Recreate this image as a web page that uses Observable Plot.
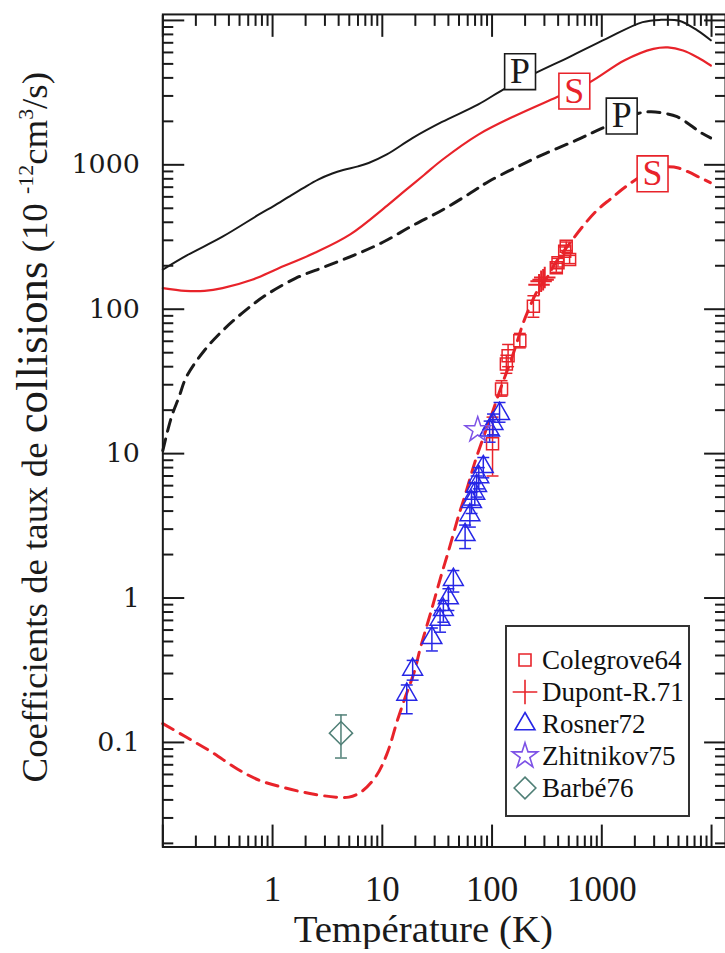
<!DOCTYPE html>
<html><head><meta charset="utf-8">
<script src="https://cdn.jsdelivr.net/npm/d3@7"></script>
<script src="https://cdn.jsdelivr.net/npm/@observablehq/plot@0.6"></script>
<style>
html,body{margin:0;padding:0;background:#fff;overflow:hidden;}
#wrap{position:relative;width:725px;height:953px;overflow:hidden;}
#legend{position:absolute;left:505px;top:625px;width:185px;height:192px;border:2px solid #333;background:#fff;box-sizing:border-box;font-family:"Liberation Serif",serif;font-size:27px;color:#111;}
#legend .row{position:absolute;left:0;height:32px;display:flex;align-items:center;white-space:nowrap;}
#legend svg{width:34px;height:32px;margin-left:1px;margin-right:0px;}
</style></head><body><div id="wrap"></div>
<script>
// ---- curves (Temperature K, rate 1e-12 cm3/s) ----
const pSolidT = [0.1, 0.164, 0.35, 0.76, 1.03, 1.4, 1.9, 2.6, 3.5, 4.4, 6, 7.5, 11, 18.8, 35, 75, 133, 245, 509, 1094, 2355, 3460, 5060, 7420, 9850];
const pSolidK = [188, 235, 318, 455, 520, 600, 690, 790, 870, 920, 975, 1030, 1180, 1530, 1980, 2620, 3400, 4300, 5600, 7450, 9730, 10090, 9950, 8530, 7280];
const sSolidT = [0.1, 0.16, 0.24, 0.35, 0.65, 1.1, 2.4, 5.1, 11, 16, 24, 35, 75, 161, 391, 776, 1600, 2950, 4000, 5500, 7420, 9850];
const sSolidK = [140, 134, 134, 140, 160, 190, 245, 330, 520, 660, 850, 1080, 1620, 2180, 2950, 3730, 5280, 6350, 6500, 6190, 5560, 4870];
const pDashT = [0.1, 0.12, 0.14, 0.164, 0.24, 0.35, 0.556, 0.88, 1.63, 3, 5.55, 10.2, 18.8, 35, 64, 94, 175, 322, 594, 1000, 2170, 2800, 3710, 4850, 6380, 7700, 9800];
const pDashK = [10.5, 18, 24.5, 34, 52, 71, 97, 126, 164, 197, 237, 292, 379, 485, 640, 770, 980, 1220, 1486, 1790, 2274, 2330, 2275, 2155, 1890, 1700, 1535];
const sDashT = [0.1, 0.163, 0.277, 0.477, 0.756, 1.29, 2.19, 3.78, 4.96, 6.46, 8.71, 11, 13.8, 16.2, 19.6, 22.2, 27.7, 35, 40, 50, 57, 70, 85, 100, 123, 150, 192, 210, 260, 324, 372, 500, 700, 920, 1200, 1650, 2500, 3500, 4050, 5000, 6000, 8000, 9750];
const sDashK = [0.135, 0.109, 0.086, 0.0655, 0.0547, 0.0485, 0.0443, 0.0418, 0.0418, 0.0456, 0.058, 0.083, 0.144, 0.206, 0.31, 0.45, 0.8, 1.5, 2.1, 3.8, 5.2, 8.8, 13.5, 19, 30, 45, 80, 95, 135, 170, 205, 280, 390, 490, 580, 705, 870, 960, 968, 950, 900, 810, 752];

// ---- curve labels ----
const labelT = [180, 562, 1519, 2902];
const labelK = [4416, 3239, 2178, 867];
const labelText = ["P", "S", "P", "S"];
const labelKind = ["black", "red", "black", "red"];

// ---- measurements ----
const colegroveT = [474, 459, 509, 399, 385, 238, 179, 140, 135, 122, 101];
const colegroveK = [273, 252, 221, 210, 194, 105, 60.4, 47.6, 41.8, 28, 11.7];
const colegroveLo = [255, 236, 207, 196, 180, 88, 54, 40, 36, 25, 7.0];
const colegroveHi = [292, 270, 236, 225, 208, 124, 68, 57, 48, 32, 17.9];
const dupontT = [268, 280, 292, 302];
const dupontK = [148, 156, 160, 166];
const rosnerT = [117, 102, 95, 83.2, 75.7, 72.3, 69.6, 65, 62.8, 56.8, 44.4, 40, 36, 33.6, 28.3, 18.9, 16.7];
const rosnerK = [18.9, 16.1, 14.5, 8.1, 6.9, 6.0, 5.3, 4.64, 3.76, 2.74, 1.34, 1.0, 0.83, 0.71, 0.53, 0.32, 0.215];
const rosnerLo = [16.5, 13.5, 12, 6.8, 5.7, 5.0, 4.4, 3.85, 3.1, 2.2, 1.1, 0.82, 0.68, 0.58, 0.43, 0.27, 0.158];
const rosnerHi = [22.6, 18.8, 16.8, 9.4, 8.0, 7.0, 6.2, 5.4, 4.4, 3.2, 1.55, 1.16, 0.96, 0.82, 0.62, 0.37, 0.25];
const zhitnikovT = [74];
const zhitnikovK = [14.6];
const barbeT = [4.2];
const barbeK = [0.116];
const barbeLo = [0.078];
const barbeHi = [0.155];

// ---- axes ----
const xTickLabels = [1, 10, 100, 1000];
const yTickLabels = [0.1, 1, 10, 100, 1000];
const legendNames = ["Colegrove64", "Dupont-R.71", "Rosner72", "Zhitnikov75", "Barbé76"];

const RED = "#e8232a", BLUE = "#2626e6", PURPLE = "#7d52e6", TEAL = "#4f7f76", INK = "#1a1a1a";

const pts = (T, K) => T.map((t, i) => ({T: t, K: K[i]}));
const errPts = (T, K, lo, hi) => T.map((t, i) => ({T: t, K: K[i], lo: lo[i], hi: hi[i]}));

const xMajor = [0.1, 1, 10, 100, 1000, 10000];
const xMinor = [];
for (let e = -1; e <= 3; e++) for (let m = 2; m <= 9; m++) xMinor.push(+(m * Math.pow(10, e)).toPrecision(3));
const yMajor = [0.1, 1, 10, 100, 1000, 10000];
const yMinor = [];
for (let e = -2; e <= 3; e++) for (let m = 2; m <= 9; m++) yMinor.push(+(m * Math.pow(10, e)).toPrecision(3));

const capSym = {draw(ctx, size) { const w = Math.sqrt(size / Math.PI); ctx.moveTo(-w, 0); ctx.lineTo(w, 0); }};
const boxSym = {draw(ctx) { ctx.rect(-15.5, -18, 31, 36); }};

const labels = labelT.map((t, i) => ({T: t, K: labelK[i], L: labelText[i], c: labelKind[i]}));
const colegrove = errPts(colegroveT, colegroveK, colegroveLo, colegroveHi);
const rosner = errPts(rosnerT, rosnerK, rosnerLo, rosnerHi);
const barbe = errPts(barbeT, barbeK, barbeLo, barbeHi);

const tickOpts = {stroke: INK, strokeWidth: 2, tickFormat: () => "", label: null};

const chart = Plot.plot({
  width: 728, height: 953,
  marginTop: 14, marginBottom: 103, marginLeft: 163, marginRight: 0,
  x: {type: "log", domain: [0.1, 13400]},
  y: {type: "log", domain: [0.01888, 11000]},
  style: {fontFamily: "Liberation Serif, serif", background: "white", color: INK},
  marks: [
    Plot.line(pts(pSolidT, pSolidK), {x: "T", y: "K", stroke: INK, strokeWidth: 2, curve: "catmull-rom"}),
    Plot.line(pts(sSolidT, sSolidK), {x: "T", y: "K", stroke: RED, strokeWidth: 2.2, curve: "catmull-rom"}),
    Plot.line(pts(pDashT, pDashK), {x: "T", y: "K", stroke: INK, strokeWidth: 3, strokeDasharray: "12,8", curve: "catmull-rom"}),
    Plot.line(pts(sDashT, sDashK), {x: "T", y: "K", stroke: RED, strokeWidth: 3, strokeDasharray: "12,8", curve: "catmull-rom"}),
    Plot.dot(labels.filter(d => d.c === "black"), {x: "T", y: "K", symbol: boxSym, fill: "white", stroke: INK, strokeWidth: 1.6}),
    Plot.dot(labels.filter(d => d.c === "red"), {x: "T", y: "K", symbol: boxSym, fill: "white", stroke: RED, strokeWidth: 1.6}),
    Plot.text(labels.filter(d => d.c === "black"), {x: "T", y: "K", text: "L", fill: INK, fontSize: 36, fontFamily: "Liberation Serif"}),
    Plot.text(labels.filter(d => d.c === "red"), {x: "T", y: "K", text: "L", fill: RED, fontSize: 36, fontFamily: "Liberation Serif"}),
    // error bars
    Plot.ruleX(colegrove, {x: "T", y1: "lo", y2: "hi", stroke: RED, strokeWidth: 1.5}),
    Plot.dot(colegrove, {x: "T", y: "lo", symbol: capSym, r: 6, stroke: RED, strokeWidth: 1.5}),
    Plot.dot(colegrove, {x: "T", y: "hi", symbol: capSym, r: 6, stroke: RED, strokeWidth: 1.5}),
    Plot.ruleX(rosner, {x: "T", y1: "lo", y2: "hi", stroke: BLUE, strokeWidth: 1.5}),
    Plot.dot(rosner, {x: "T", y: "lo", symbol: capSym, r: 6, stroke: BLUE, strokeWidth: 1.5}),
    Plot.dot(rosner, {x: "T", y: "hi", symbol: capSym, r: 6, stroke: BLUE, strokeWidth: 1.5}),
    Plot.ruleX(barbe, {x: "T", y1: "lo", y2: "hi", stroke: TEAL, strokeWidth: 1.5}),
    Plot.dot(barbe, {x: "T", y: "lo", symbol: capSym, r: 6, stroke: TEAL, strokeWidth: 1.5}),
    Plot.dot(barbe, {x: "T", y: "hi", symbol: capSym, r: 6, stroke: TEAL, strokeWidth: 1.5}),
    // symbols
    Plot.dot(colegrove, {x: "T", y: "K", symbol: "square", r: 6.8, stroke: RED, strokeWidth: 1.5}),
    Plot.dot(pts(dupontT, dupontK), {x: "T", y: "K", symbol: "plus", r: 7, stroke: RED, strokeWidth: 2}),
    Plot.dot(rosner, {x: "T", y: "K", symbol: "triangle", r: 7.4, stroke: BLUE, strokeWidth: 1.5}),
    Plot.dot(pts(zhitnikovT, zhitnikovK), {x: "T", y: "K", symbol: "star", r: 8, stroke: PURPLE, strokeWidth: 1.5}),
    Plot.dot(barbe, {x: "T", y: "K", symbol: "diamond2", r: 10.5, stroke: TEAL, strokeWidth: 1.5}),
    // inward ticks on four sides
    Plot.axisX(xMajor, {anchor: "bottom", tickSize: -22, ...tickOpts}),
    Plot.axisX(xMinor, {anchor: "bottom", tickSize: -11, ...tickOpts}),
    Plot.axisX(xMajor, {anchor: "top", tickSize: -22, ...tickOpts}),
    Plot.axisX(xMinor, {anchor: "top", tickSize: -11, ...tickOpts}),
    Plot.axisY(yMajor, {anchor: "left", tickSize: -22, ...tickOpts}),
    Plot.axisY(yMinor, {anchor: "left", tickSize: -11, ...tickOpts}),
    Plot.axisY(yMajor, {anchor: "right", tickSize: -22, ...tickOpts}),
    Plot.axisY(yMinor, {anchor: "right", tickSize: -11, ...tickOpts}),
    // tick labels
    Plot.axisX(xTickLabels, {anchor: "bottom", tickSize: 0, tickPadding: 29, fontSize: 35, fontFamily: "Liberation Serif", fill: INK, tickFormat: d => String(d), label: null}),
    Plot.axisY(yTickLabels, {anchor: "left", tickSize: 0, tickPadding: 23, fontSize: 27, fontFamily: "DejaVu Serif", fill: INK, tickFormat: d => String(d), label: null}),
    Plot.frame({stroke: INK, strokeWidth: 2})
  ]
});

const wrap = document.getElementById("wrap");
wrap.appendChild(chart);

// axis titles as real text
const svg = d3.select(chart);
const yt = svg.append("text")
  .attr("transform", "translate(47,429) rotate(-90)")
  .attr("text-anchor", "middle")
  .attr("font-family", "Liberation Serif, serif")
  .attr("font-size", 37)
  .attr("fill", INK);
yt.append("tspan").text("Coefficients de taux de ");
yt.append("tspan").attr("font-size", 45).text("collisions");
yt.append("tspan").text(" (10 ");
yt.append("tspan").attr("font-size", 22).attr("dy", -14).text("-12");
yt.append("tspan").attr("dy", 14).text("cm");
yt.append("tspan").attr("font-size", 22).attr("dy", -14).text("3");
yt.append("tspan").attr("dy", 14).text("/s)");
svg.append("text")
  .attr("x", 425).attr("y", 946)
  .attr("text-anchor", "middle")
  .attr("font-family", "Liberation Serif, serif")
  .attr("font-size", 39)
  .attr("fill", INK)
  .text("Température (K)");

// legend
const legend = document.createElement("div");
legend.id = "legend";
const symDefs = [
  {t: d3.symbolSquare, s: 144, c: RED},
  {t: d3.symbolPlus, s: 200, c: RED},
  {t: d3.symbolTriangle, s: 172, c: BLUE},
  {t: d3.symbolStar, s: 200, c: PURPLE},
  {t: d3.symbolDiamond2, s: 300, c: TEAL}
];
legendNames.forEach((name, i) => {
  const row = document.createElement("div");
  row.className = "row";
  row.style.top = (17 + i * 32) + "px";
  const sd = symDefs[i];
  const path = d3.symbol(sd.t, sd.s)();
  row.innerHTML = `<svg viewBox="-17 -16 34 32"><path d="${path}" fill="none" stroke="${sd.c}" stroke-width="1.6"/></svg><span>${name}</span>`;
  legend.appendChild(row);
});
wrap.appendChild(legend);
</script>
</body></html>
